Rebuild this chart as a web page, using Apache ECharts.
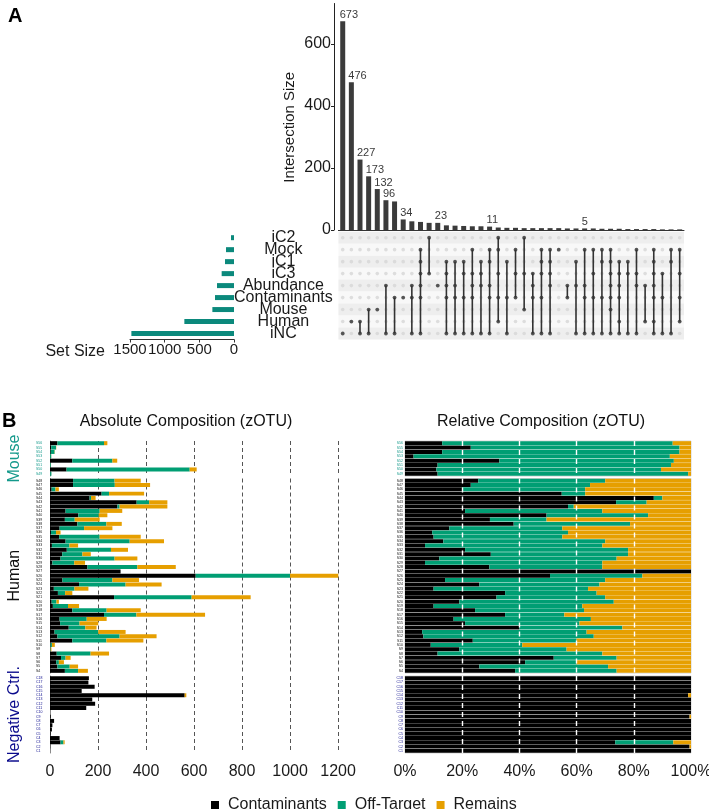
<!DOCTYPE html>
<html><head><meta charset="utf-8">
<script src="https://cdn.jsdelivr.net/npm/echarts@6/dist/echarts.min.js"></script>
<style>html,body{margin:0;padding:0;background:#fff}#c{width:709px;height:809px}</style>
</head><body><div id="c"></div>
<script>
const FONT = '"Liberation Sans", Arial, Helvetica, sans-serif';

// ---------------- Panel A (UpSet) ----------------
const setNames = ['iC2','Mock','iC1','iC3','Abundance','Contaminants','Mouse','Human','iNC'];
const setSizes = [43,115,130,178,245,274,312,716,1480];
const setSizeTicks = [0,500,1000,1500];
const intersectionSizes = [673,476,227,173,132,96,92,34,28,26,23,23,15,14,13,12,12,11,8,7,7,6,6,6,6,6,5,5,5,5,4,4,4,3,3,3,3,2,2,2];
const intersectionTicks = [0,200,400,600];
const intersectionMembers = [
  [8],[7],[7,8],[6,8],[6],[4,8],[5,8],[5],[4,5,8],[1,2,3,4,5,8],
  [0,3],[4],[2,3,4,5,8],[2,4,5,8],[2,3,5,8],[1,3,4,5,8],[2,3,4,8],[1,2,4,5,8],[0,1,3,5,7],[2,5,8],
  [1,3,5],[0,3,6],[3,4,5,8],[1,2,3,5,8],[1,2,3,4,8],[1],[4,5],[2,4,8],[1,4,5,8],[1,3,5,8],
  [1,2,5,8],[1,2,3,4,5,6,8],[2,3,4,5,7,8],[2,3,8],[1,3,4,8],[4,7],[1,2,3,4,5,7,8],[3,5,8],[1,2,8],[1,3,5,7]
];
const labelledBars = [0,1,2,3,4,5,7,11,17,28];

// ---------------- Panel B ----------------
const mouseLabels = ['S56','S55','S54','S53','S52','S51','S50','S49'];
const humanLabels = ['S48','S47','S46','S45','S44','S43','S42','S41','S40','S39','S38','S37','S36','S35','S34','S33','S32','S31','S30','S29','S28','S27','S26','S25','S24','S23','S22','S21','S20','S19','S18','S17','S16','S15','S14','S13','S12','S11','S10','S9','S8','S7','S6','S5','S4'];
const negLabels = ['C18','C17','C16','C15','C14','C13','C12','C11','C10','C9','C8','C7','C6','C5','C4','C3','C2','C1'];

// Absolute composition (zOTU counts)
const mouseAbsContam = [31,5,3,0.2,93,0.5,69,0.7];
const mouseAbsOff    = [194,20,16,5,167,3.2,513,5.2];
const mouseAbsRem    = [14,1,1,0.4,20,0.3,29,0.1];

const humanAbsContam = [96,96,7,215,165,361,281,65,118,62,114,40,4,38,65,8,70,51,44,10,156,294,607,52,121,16,33,267,7,12,93,225,40,42,78,19,31,93,2,1,28,46,26,31,62];
const humanAbsOff    = [173,174,16,31,6,52,9,142,85,41,121,102,21,169,267,73,184,84,225,91,208,0,393,208,194,86,30,323,20,63,143,135,113,81,69,182,259,142,6,2,141,19,11,51,55];
const humanAbsRem    = [109,147,14,146,19,76,199,94,36,104,64,118,19,171,143,36,71,35,95,45,160,0,201,111,150,58,30,246,10,46,142,286,83,78,47,114,154,154,12,3,77,21,21,35,41];

const negAbsContam = [162,160,186,132,561,176,188,151,0,3,17,10,8,3,40,44,1,0];
const negAbsOff    = [0,0,0,0,0,0,0,0,0,0,0,0,0,0,0,12,0,0];
const negAbsRem    = [0,0,0,0,7,0,0,0,0,0,0,0,0,0,0,5,0,0];

// Relative composition (%)
const mouseRelContam = [13,23,13,3,33,11.4,11,11.4];
const mouseRelOff    = [80.6,73,83,89.6,61,81.6,78.5,87.6];
const mouseRelRem    = [6.4,4,4,7.4,6,7,10.5,1];

const humanRelContam = [25.6,23,20,54.8,87,73.8,57,21,49.5,29.7,38,15.5,9.5,10,13.4,7,21,30,12,7,29.5,100,50.7,14,26,10,35,32,19,10,24.5,35,17,21,40,6,6.4,23.7,9,19,11.4,52,42,26,38.5];
const humanRelOff    = [44.4,41.7,43,8.2,3,10.7,2,48,35.5,19.8,40.7,39.5,47.5,45,56.6,62,57,48,62,62,39.5,0,32.3,56,42,54,32,38,54,52,38.1,20.7,48,40,36,57.5,59.6,36.3,32,37.5,57.6,22,18,45,35.5];
const humanRelRem    = [30,35.3,37,37,10,15.5,41,31,15,50.5,21.3,45,43,45,30,31,22,22,26,31,31,0,17,30,32,36,33,30,27,38,37.4,44.3,35,39,24,36.5,34,40,59,43.5,31,26,40,29,26];

const negRelContam = [100,100,100,100,99,100,100,100,100,99.5,100,100,100,100,100,73.5,99.5,100];
const negRelOff    = [0,0,0,0,0,0,0,0,0,0,0,0,0,0,0,20.3,0,0];
const negRelRem    = [0,0,0,0,1,0,0,0,0,0.5,0,0,0,0,0,6.2,0.5,0];

const absTicks = [0,200,400,600,800,1000,1200];
const relTicks = [0,20,40,60,80,100];
const legendNames = ['Contaminants','Off-Target','Remains'];
const compColors = ['#000000','#009E73','#E69F00'];

// ---------------- build ----------------
const plain = v => String(v);
const interCats = intersectionMembers.map(m => m.map(i => setNames[i]).join(' & '));
const bgDots = [];
interCats.forEach((_, c) => setNames.forEach((_, r) => bgDots.push([c, r])));
const memberDots = [];
intersectionMembers.forEach((m, c) => m.forEach(r => memberDots.push([c, r])));
const connectors = [];
intersectionMembers.forEach((m, c) => { if (m.length > 1) connectors.push([c, Math.min(...m), Math.max(...m)]); });

const interData = intersectionSizes.map((v, i) => labelledBars.includes(i)
  ? {value: v, label: {show: true}} : {value: v});

const gridA = {left: 338.4, width: 345.6};
const matTop = 231.7, matH = 107.8;
const grids = [
  {left: gridA.left, width: gridA.width, top: 3.5, height: 226.5},
  {left: gridA.left, width: gridA.width, top: matTop, height: matH},
  {left: 130, width: 104, top: matTop, height: matH},
  {left: 50, width: 295, top: 441, height: 35},
  {left: 405, width: 286, top: 441, height: 35, show: true, borderColor: '#d4d4d4', borderWidth: 1},
  {left: 50, width: 295, top: 478.5, height: 194.5},
  {left: 405, width: 286, top: 478.5, height: 194.5, show: true, borderColor: '#d4d4d4', borderWidth: 1},
  {left: 50, width: 295, top: 676, height: 77},
  {left: 405, width: 286, top: 676, height: 77, show: true, borderColor: '#d4d4d4', borderWidth: 1}
].map(g => Object.assign({outerBoundsMode: 'none', containLabel: false}, g));

const txt = '#1a1a1a';
const xAxes = [
  {type: 'category', data: interCats, axisLine: {show: true, lineStyle: {color: '#333', width: 1}}, axisTick: {show: false}, axisLabel: {show: false}},
  {type: 'category', data: interCats, show: false},
  {type: 'value', inverse: true, min: 0, max: 1500, interval: 500,
    axisLine: {show: true, lineStyle: {color: '#333', width: 1}},
    axisTick: {show: true, length: 3, lineStyle: {color: '#333'}, customValues: setSizeTicks},
    axisLabel: {fontSize: 15, color: txt, margin: 3, formatter: plain, customValues: setSizeTicks, showMinLabel: true, showMaxLabel: true, hideOverlap: false},
    splitLine: {show: false},
    name: 'Set Size', nameLocation: 'end', nameGap: 25,
    nameTextStyle: {fontSize: 16, color: txt, verticalAlign: 'top', padding: [4, 0, 0, 0]}}
];
const yAxes = [
  {type: 'value', min: 0, max: 730, offset: 4.4,
    axisLine: {show: true, lineStyle: {color: '#222', width: 1}},
    axisTick: {show: true, length: 3, lineStyle: {color: '#222'}, customValues: intersectionTicks},
    axisLabel: {fontSize: 16, color: txt, margin: 3, customValues: intersectionTicks},
    splitLine: {show: false},
    name: 'Intersection Size', nameLocation: 'middle', nameRotate: 90, nameGap: 37,
    nameTextStyle: {fontSize: 15, color: txt, padding: [0, 21, 0, 0]}},
  {type: 'category', data: setNames, inverse: true,
    axisLine: {show: false}, axisTick: {show: false},
    axisLabel: {fontSize: 16, color: txt, align: 'center', margin: 55, interval: 0, lineHeight: 12},
    splitArea: {show: true, interval: 0, areaStyle: {color: ['#eeeeee', '#f8f8f8']}}},
  {type: 'category', data: setNames, inverse: true, show: false}
];

const groups = [
  {labels: mouseLabels, abs: [mouseAbsContam, mouseAbsOff, mouseAbsRem], rel: [mouseRelContam, mouseRelOff, mouseRelRem], name: 'Mouse', color: '#14998b'},
  {labels: humanLabels, abs: [humanAbsContam, humanAbsOff, humanAbsRem], rel: [humanRelContam, humanRelOff, humanRelRem], name: 'Human', color: '#111111'},
  {labels: negLabels, abs: [negAbsContam, negAbsOff, negAbsRem], rel: [negRelContam, negRelOff, negRelRem], name: 'Negative Ctrl.', color: '#0a0a8c'}
];

const series = [
  {type: 'bar', xAxisIndex: 0, yAxisIndex: 0, data: interData, barWidth: 5, itemStyle: {color: '#3b3b3b'},
    label: {show: false, position: 'top', align: 'left', offset: [-3, 0], distance: 1, fontSize: 11, color: '#3a3a3a'}},
  {type: 'scatter', xAxisIndex: 1, yAxisIndex: 1, data: bgDots, symbolSize: 3.6, itemStyle: {color: '#d6d6d6'}, silent: true},
  {type: 'custom', coordinateSystem: 'cartesian2d', xAxisIndex: 1, yAxisIndex: 1, data: connectors,
    encode: {x: 0, y: [1, 2]},
    renderItem: (params, api) => {
      const p1 = api.coord([api.value(0), api.value(1)]);
      const p2 = api.coord([api.value(0), api.value(2)]);
      return {type: 'line', shape: {x1: p1[0], y1: p1[1], x2: p2[0], y2: p2[1]}, style: {stroke: '#333', lineWidth: 1.6}};
    }, z: 3},
  {type: 'scatter', xAxisIndex: 1, yAxisIndex: 1, data: memberDots, symbolSize: 3.8, itemStyle: {color: '#333'}, z: 4, silent: true},
  {type: 'bar', xAxisIndex: 2, yAxisIndex: 2, data: setSizes, barWidth: 5, itemStyle: {color: '#0b897c'}}
];

groups.forEach((g, gi) => {
  const last = gi === 2;
  const L = 3 + gi * 2, R = 4 + gi * 2;
  xAxes.push({type: 'value', min: 0, max: 1229, interval: 200,
    axisLine: {show: false}, axisTick: {show: false},
    axisLabel: {show: last, fontSize: 16, color: txt, margin: 11, formatter: plain, customValues: absTicks},
    splitLine: {show: true, showMinLine: false, showMaxLine: false, lineStyle: {color: '#555', type: [4, 3], width: 1}}});
  xAxes.push({type: 'value', min: 0, max: 100, interval: 20,
    axisLine: {show: false}, axisTick: {show: false},
    axisLabel: {show: last, fontSize: 16, color: txt, margin: 11, formatter: '{value}%', customValues: relTicks},
    splitLine: {show: false}});
  yAxes.push({type: 'category', data: g.labels, inverse: true, offset: 18,
    axisLine: {show: true, lineStyle: {color: '#8a8a8a', width: 1}}, axisTick: {show: false},
    axisLabel: {inside: true, margin: 4, fontSize: 3.5, color: g.color, interval: 0},
    name: g.name, nameLocation: 'middle', nameRotate: 90, nameGap: 9,
    nameTextStyle: {fontSize: 16, color: g.color}});
  yAxes.push({type: 'category', data: g.labels, inverse: true,
    axisLine: {show: false}, axisTick: {show: false},
    axisLabel: {margin: 2, fontSize: 3.5, color: g.color, interval: 0}});
  legendNames.forEach((n, k) => {
    series.push({type: 'bar', name: n, xAxisIndex: L, yAxisIndex: L, stack: 'abs' + gi,
      data: g.abs[k], barCategoryGap: '8%', itemStyle: {color: compColors[k]}});
  });
  legendNames.forEach((n, k) => {
    const s = {type: 'bar', name: n, xAxisIndex: R, yAxisIndex: R, stack: 'rel' + gi,
      data: g.rel[k], barCategoryGap: '8%', itemStyle: {color: compColors[k]}};
    if (k === 2) {
      s.markLine = {silent: true, symbol: 'none', label: {show: false}, z: 10,
        lineStyle: {color: '#ffffff', type: [5, 4], width: 1.4},
        data: [20, 40, 60, 80].map(v => ({xAxis: v}))};
    }
    series.push(s);
  });
});
xAxes.forEach((a, i) => a.gridIndex = i);
yAxes.forEach((a, i) => a.gridIndex = i);

const option = {
  animation: false,
  textStyle: {fontFamily: FONT},
  grid: grids,
  xAxis: xAxes,
  yAxis: yAxes,
  series: series,
  legend: {data: legendNames, top: 792, left: 206, itemWidth: 8, itemHeight: 8, itemGap: 11,
    icon: 'rect', selectedMode: false, textStyle: {fontSize: 16, color: txt, padding: [0, 0, 0, 4]}},
  graphic: [
    {type: 'text', x: 8, y: 6, style: {text: 'A', font: 'bold 20px ' + FONT, fill: '#000'}},
    {type: 'text', x: 2, y: 411, style: {text: 'B', font: 'bold 20px ' + FONT, fill: '#000'}},
    {type: 'text', x: 186, y: 414, style: {text: 'Absolute Composition (zOTU)', font: '16px ' + FONT, fill: '#111', textAlign: 'center'}},
    {type: 'text', x: 541, y: 414, style: {text: 'Relative Composition (zOTU)', font: '16px ' + FONT, fill: '#111', textAlign: 'center'}}
  ]
};
const chart = echarts.init(document.getElementById('c'), null, {renderer: 'canvas'});
chart.setOption(option);
</script>
</body></html>
